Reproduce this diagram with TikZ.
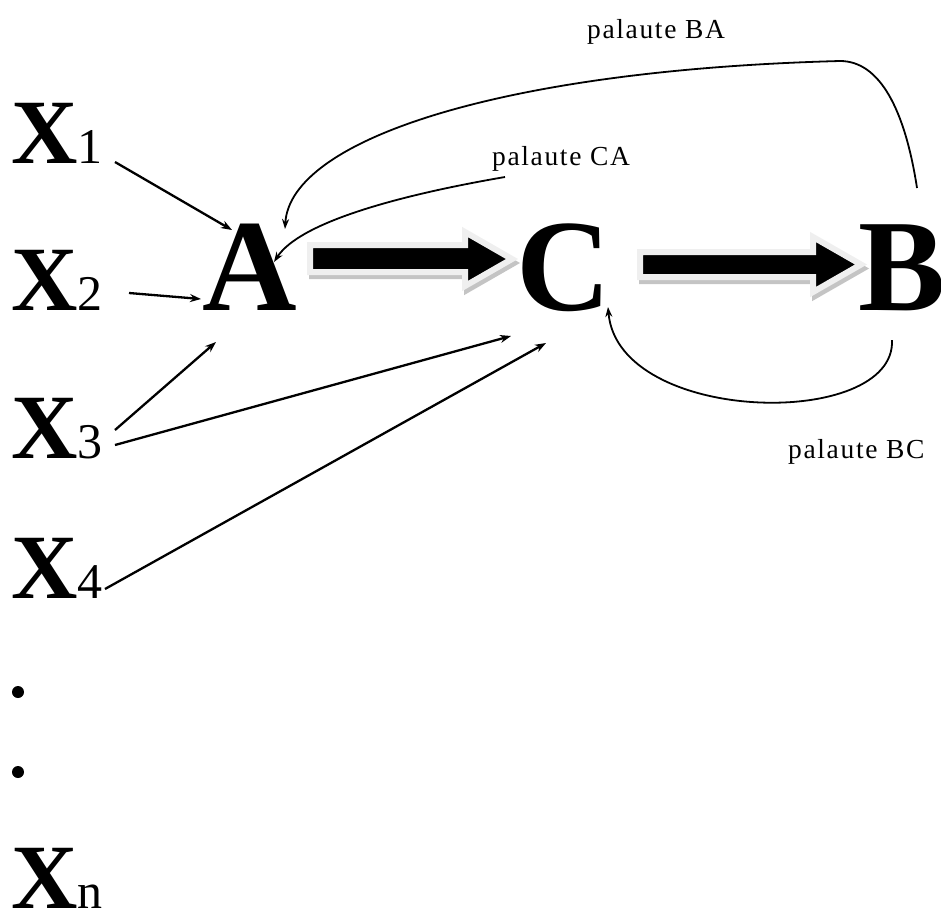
\documentclass[tikz,border=0pt]{standalone}
\usepackage{fontspec}
\setmainfont{Liberation Serif}
\newfontfamily\labfont[LetterSpace=6]{Liberation Serif}
\usetikzlibrary{arrows.meta}
\definecolor{rim}{HTML}{EFEFEF}
\definecolor{shade}{HTML}{C4C4C4}
\newcommand{\xv}[1]{{\bfseries X}{\fontsize{50}{50}\selectfont #1}}
\begin{document}
\begin{tikzpicture}[x=1pt,y=-1pt,
  bigletter/.style={font=\fontsize{131}{131}\selectfont\bfseries, inner sep=0pt, anchor=base west},
  xvar/.style={font=\fontsize{92}{92}\selectfont, inner sep=0pt, anchor=base west},
  lab/.style={font=\labfont\fontsize{27.5}{27.5}\selectfont, inner sep=0pt, anchor=base west},
  inarrow/.style={-{Stealth[length=11pt,width=8pt]}, line width=2.3pt},
  feedback/.style={-{Stealth[length=10pt,width=7pt]}, line width=1.8pt},
  fatarrow/.style={fill=black, draw=rim, line width=6pt, line join=miter},
  fatshadow/.style={fill=shade, draw=shade, line width=6pt, line join=miter},
  dot/.style={circle, fill=black, inner sep=0pt, minimum size=12pt}]
\useasboundingbox (0,0) rectangle (941,913);

% input variables
\node[xvar] (x1) at (11,163) {\xv{1}};
\node[xvar] (x2) at (11,310) {\xv{2}};
\node[xvar] (x3) at (11,458) {\xv{3}};
\node[xvar] (x4) at (11,598) {\xv{4}};
\node[dot] (d1) at (18,692) {};
\node[dot] (d2) at (18,772) {};
\node[xvar] (xn) at (11,908) {\xv{n}};

% main nodes
\node[bigletter] (A) at (202,310) {A};
\node[bigletter] (C) at (516,310) {C};
\node[bigletter] (B) at (858,310) {B};

% fat arrows A -> C and C -> B
\begin{scope}[shift={(2,4)}]
\draw[fatshadow] (310,245) -- (465,245) -- (465,232) -- (512,259) -- (465,286) -- (465,272) -- (310,272) -- cycle;
\draw[fatshadow] (640,252) -- (813,252) -- (813,237) -- (861,264.5) -- (813,292) -- (813,277) -- (640,277) -- cycle;
\end{scope}
\draw[fatarrow] (310,245) -- (465,245) -- (465,232) -- (512,259) -- (465,286) -- (465,272) -- (310,272) -- cycle;
\draw[fatarrow] (640,252) -- (813,252) -- (813,237) -- (861,264.5) -- (813,292) -- (813,277) -- (640,277) -- cycle;

% connector end points
\coordinate (x1o) at (115,162);
\coordinate (x2o) at (129,293);
\coordinate (x3oa) at (115,430);
\coordinate (x3oc) at (115,445);
\coordinate (x4o) at (105,589);
\coordinate (ain1) at (232,230);
\coordinate (ain2) at (201,299);
\coordinate (ain3) at (216,342);
\coordinate (cin3) at (511,336);
\coordinate (cin4) at (546,343);
\coordinate (bo1) at (917,188);
\coordinate (bturn) at (840,61);
\coordinate (ainba) at (285,229);
\coordinate (co) at (505,177);
\coordinate (ainca) at (274,262);
\coordinate (bo2) at (892,340);
\coordinate (cinbc) at (608,307);

\draw[inarrow] (x1o) -- (ain1);
\draw[inarrow] (x2o) -- (ain2);
\draw[inarrow] (x3oa) -- (ain3);
\draw[inarrow] (x3oc) -- (cin3);
\draw[inarrow] (x4o) -- (cin4);

% feedback loops
\draw[feedback] (bo1) .. controls (905,110) and (880,61) .. (bturn)
  .. controls (500,70) and (290,140) .. (ainba);
\draw[feedback] (co) .. controls (400,195) and (300,222) .. (ainca);
\draw[feedback] (bo2) .. controls (896,430) and (618,425) .. (cinbc);

% labels
\node[lab] (lba) at (587,38) {palaute BA};
\node[lab] (lca) at (492,165) {palaute CA};
\node[lab] (lbc) at (788,458) {palaute BC};
\end{tikzpicture}
\end{document}
